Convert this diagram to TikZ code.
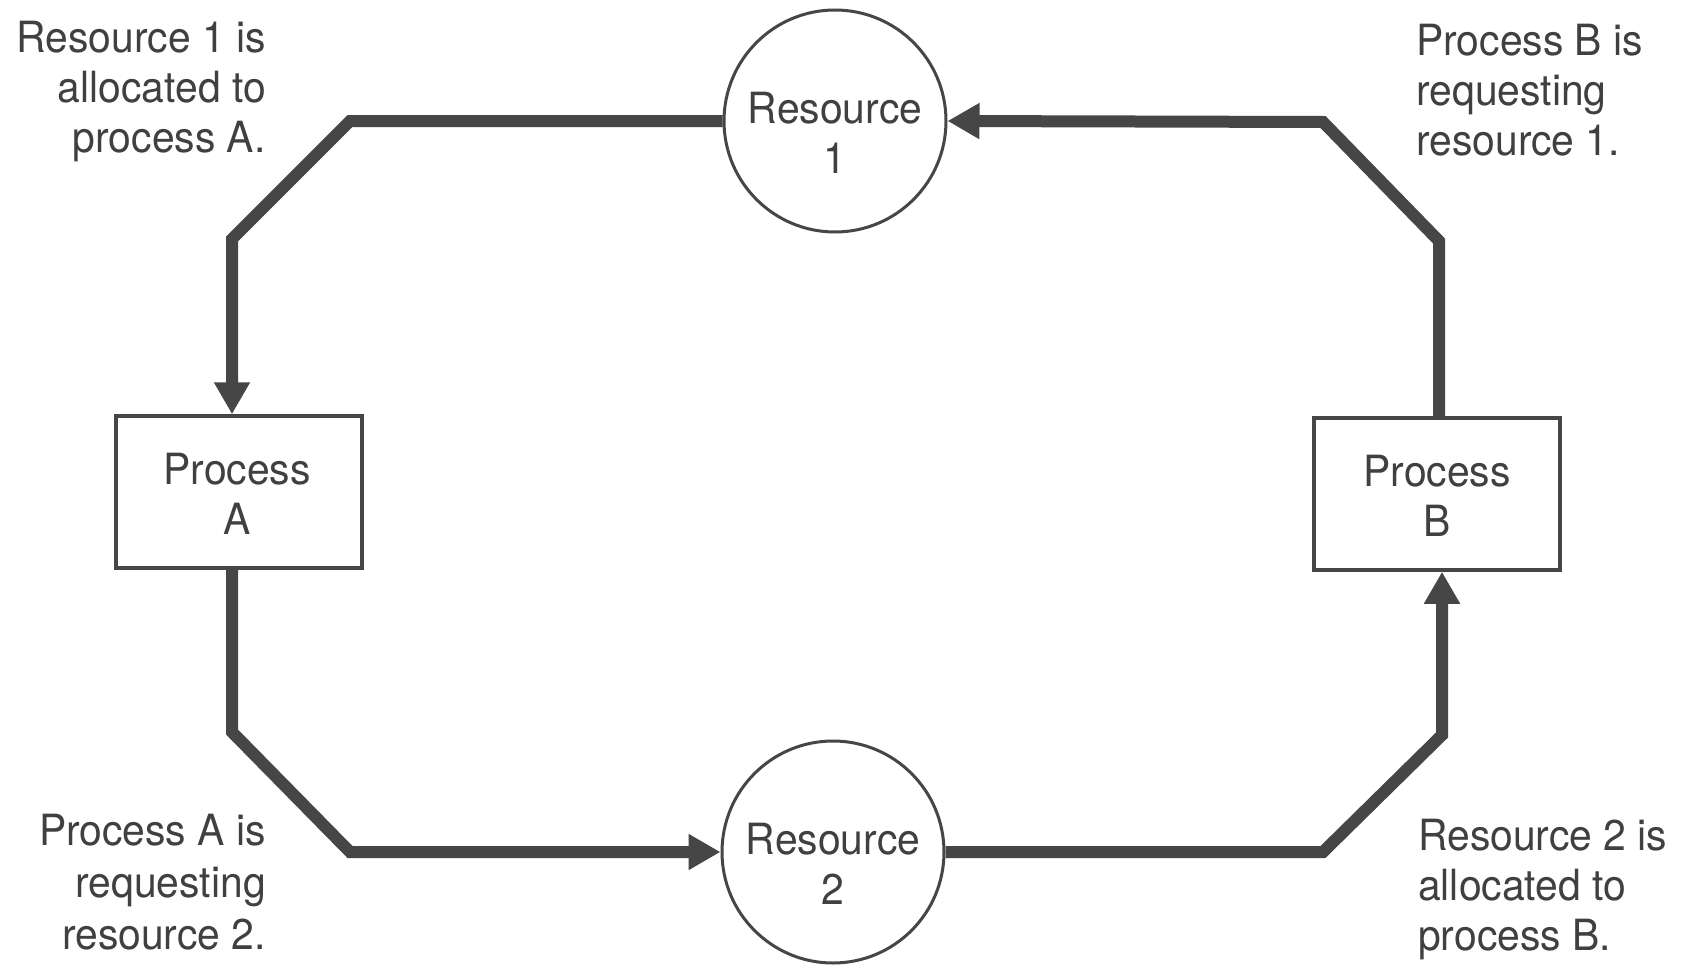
\documentclass[tikz,border=0pt]{standalone}
\usepackage{fontspec}
\newfontfamily\lblfont[FakeStretch=0.95]{TeX Gyre Heros}
\usetikzlibrary{arrows.meta}
\definecolor{ink}{HTML}{464646}
\definecolor{txt}{HTML}{404040}
\begin{document}
\begin{tikzpicture}[x=1pt,y=-1pt,
  lbl/.style={inner sep=0pt, text=txt, font=\lblfont\fontsize{43}{50}\selectfont},
  res/.style={circle, draw=ink, line width=3pt, minimum size=222pt, inner sep=0pt},
  proc/.style={rectangle, draw=ink, line width=3.5pt, minimum width=246pt, minimum height=152pt, inner sep=0pt},
  edge/.style={draw=ink, line width=12pt, line join=miter},
  tip/.style={-{Triangle[length=32pt,width=34pt]}}]
\useasboundingbox (0,0) rectangle (1687,966);
\fill[white] (0,0) rectangle (1687,966);

% nodes
\node[res] (r1) at (835,121) {};
\node[res] (r2) at (833,852) {};
\node[proc] (pa) at (239,492) {};
\node[proc] (pb) at (1437,494) {};

\node[lbl, align=center] (r1t) at (835,133) {Resource\\1};
\node[lbl, align=center] (r2t) at (833,864) {Resource\\2};
\node[lbl, align=center] (pat) at (237,494) {Process\\A};
\node[lbl, align=center] (pbt) at (1437,496) {Process\\B};

% labels (base anchor = baseline of last line)
\node[lbl, align=right, anchor=base east] (ltl) at (266,152) {Resource 1 is\\allocated to\\process A.};
\node[lbl, align=left, anchor=base west] (ltr) at (1416,155) {Process B is\\requesting\\resource 1.};
\node[lbl, align=right, anchor=base east, font=\lblfont\fontsize{43}{52}\selectfont] (lbl) at (266,949) {Process A is\\requesting\\resource 2.};
\node[lbl, align=left, anchor=base west] (lbr) at (1418,950) {Resource 2 is\\allocated to\\process B.};

% corner coordinates
\coordinate (c1) at (350,121);
\coordinate (c2) at (232,239);
\coordinate (c3) at (232,732);
\coordinate (c4) at (350,852);
\coordinate (c5) at (1323,852);
\coordinate (c6) at (1442,735);
\coordinate (c7) at (1439,241);
\coordinate (c8) at (1323,122);

% connectors
\draw[edge, tip] (r1.west) -- (c1) -- (c2) -- (c2 |- pa.north);
\draw[edge, tip] (c3 |- pa.south) -- (c3) -- (c4) -- (r2.west);
\draw[edge, tip] (r2.east) -- (c5) -- (c6) -- (c6 |- pb.south);
\draw[edge, tip] (c7 |- pb.north) -- (c7) -- (c8) -- (r1.east);
\end{tikzpicture}
\end{document}
